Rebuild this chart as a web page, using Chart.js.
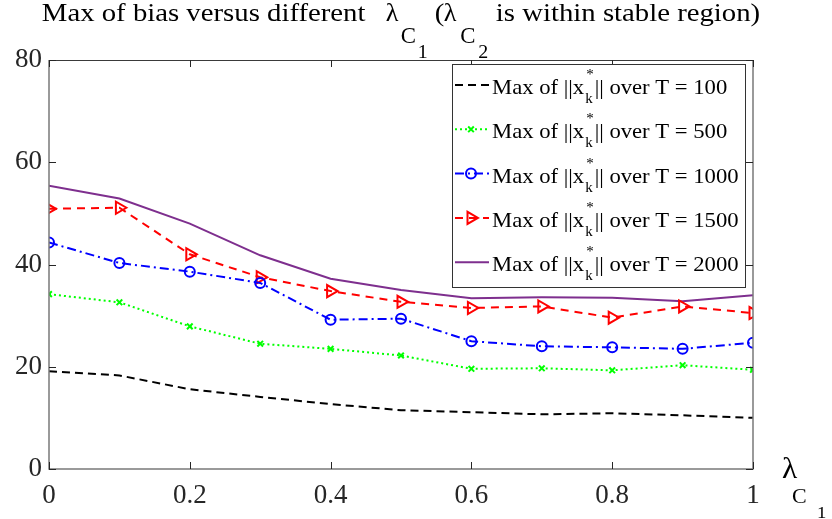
<!DOCTYPE html>
<html>
<head>
<meta charset="utf-8">
<script src="https://cdn.jsdelivr.net/npm/chart.js@4.4.1/dist/chart.umd.min.js"></script>
<style>
  html, body { margin: 0; padding: 0; background: #ffffff; }
  #wrap { width: 832px; height: 519px; }
</style>
</head>
<body>
<div id="wrap"><canvas id="c" width="832" height="519"></canvas></div>
<script>
// Sweep of the first eigenvalue parameter
const lambdaC1 = [0, 0.1, 0.2, 0.3, 0.4, 0.5, 0.6, 0.7, 0.8, 0.9, 1];

// Horizon lengths for each series
const horizons = ['100', '500', '1000', '1500', '2000'];

// Maximum bias norm reached over each horizon
const maxT100  = [19.1, 18.3, 15.6, 14.1, 12.7, 11.5, 11.1, 10.7, 10.9, 10.5, 10.0];
const maxT500  = [34.2, 32.6, 27.9, 24.5, 23.5, 22.2, 19.6, 19.7, 19.3, 20.3, 19.4];
const maxT1000 = [44.3, 40.3, 38.6, 36.4, 29.2, 29.4, 25.0, 24.0, 23.8, 23.5, 24.7];
const maxT1500 = [50.9, 51.1, 42.0, 37.5, 34.8, 32.7, 31.5, 31.8, 29.6, 31.8, 30.5];
const maxT2000 = [55.4, 52.9, 48.0, 41.8, 37.2, 35.0, 33.4, 33.6, 33.5, 32.8, 34.0];

// Axis tick values
const xTickValues = [0, 0.2, 0.4, 0.6, 0.8, 1];
const yTickValues = [0, 20, 40, 60, 80];

const SERIF = '"Liberation Serif", "Times New Roman", Times, serif';
const TEXT_COLOR = '#262626';

function toPoints(values) {
  return lambdaC1.map((x, i) => ({ x: x, y: values[i] }));
}

// Draws one piece of text with an optional horizontal stretch.
function drawText(ctx, text, x, baseline, size, sx, color) {
  ctx.save();
  ctx.translate(x, baseline);
  ctx.scale(sx, 1);
  ctx.font = size + 'px ' + SERIF;
  ctx.fillStyle = color || '#000000';
  ctx.textAlign = 'left';
  ctx.textBaseline = 'alphabetic';
  ctx.fillText(text, 0, 0);
  ctx.restore();
}

function textWidth(ctx, text, size, sx) {
  ctx.save();
  ctx.font = size + 'px ' + SERIF;
  const w = ctx.measureText(text).width * sx;
  ctx.restore();
  return w;
}

// Title pieces: offsets are from the start of the title line
const TITLE_SX = 1.15;
const titlePieces = [
  { t: 'Max of bias versus different', x: 0, dy: 0, size: 25, sx: TITLE_SX },
  { t: '\u03BB', x: 344, dy: 0, size: 25, sx: 1.05 },
  { t: 'C', x: 359, dy: 22, size: 24, sx: 0.95 },
  { t: '1', x: 376, dy: 37, size: 19, sx: 1.05 },
  { t: '(', x: 393, dy: 0, size: 25, sx: TITLE_SX },
  { t: '\u03BB', x: 402, dy: 0, size: 25, sx: 1.05 },
  { t: 'C', x: 418.5, dy: 22, size: 24, sx: 0.95 },
  { t: '2', x: 436.5, dy: 37, size: 19, sx: 1.05 },
  { t: 'is within stable region)', x: 454, dy: 0, size: 25, sx: TITLE_SX }
];

const titlePlugin = {
  id: 'richTitle',
  afterDraw(chart) {
    const ctx = chart.ctx;
    const area = chart.chartArea;
    const last = titlePieces[titlePieces.length - 1];
    const total = last.x + textWidth(ctx, last.t, last.size, last.sx);
    const x0 = (area.left + area.right) / 2 - total / 2;
    for (const p of titlePieces) {
      drawText(ctx, p.t, x0 + p.x, 21 + p.dy, p.size, p.sx, '#000000');
    }
  }
};

// Axis title for the horizontal axis, at the right end of the axis
const xTitlePlugin = {
  id: 'xAxisTitle',
  afterDraw(chart) {
    const ctx = chart.ctx;
    const area = chart.chartArea;
    const x = area.right + 29;
    drawText(ctx, '\u03BB', x, area.bottom + 9, 30, 1.05);
    drawText(ctx, 'C', x + 10, area.bottom + 34, 20, 1.1);
    drawText(ctx, '1', x + 35, area.bottom + 49, 17, 1.1);
  }
};

// Box around the plot area with inward tick marks on all four sides
const framePlugin = {
  id: 'boxFrame',
  afterDatasetsDraw(chart) {
    const ctx = chart.ctx;
    const a = chart.chartArea;
    const xs = chart.scales.x;
    const ys = chart.scales.y;
    const tick = 7;
    ctx.save();
    ctx.lineWidth = 1.5;
    ctx.strokeStyle = '#7a7a7a';
    ctx.beginPath();
    ctx.moveTo(a.left, a.top);
    ctx.lineTo(a.left, a.bottom);
    ctx.lineTo(a.right, a.bottom);
    ctx.lineTo(a.right, a.top);
    ctx.stroke();
    ctx.lineWidth = 1;
    ctx.strokeStyle = '#3a3a3a';
    ctx.beginPath();
    ctx.moveTo(a.left, a.top + 0.5);
    ctx.lineTo(a.right, a.top + 0.5);
    ctx.stroke();
    ctx.strokeStyle = '#262626';
    ctx.beginPath();
    for (const v of xTickValues) {
      const px = Math.round(xs.getPixelForValue(v)) + 0.5;
      ctx.moveTo(px, a.bottom); ctx.lineTo(px, a.bottom - tick);
      ctx.moveTo(px, a.top); ctx.lineTo(px, a.top + tick);
    }
    for (const v of yTickValues) {
      const py = Math.round(ys.getPixelForValue(v)) + 0.5;
      ctx.moveTo(a.left, py); ctx.lineTo(a.left + tick, py);
      ctx.moveTo(a.right, py); ctx.lineTo(a.right - tick, py);
    }
    ctx.stroke();
    ctx.restore();
  }
};

// Legend box with labels of the form Max of ||x_k^*|| over T = ...
const LEGEND_FONT = 22;
const legendPlugin = {
  id: 'richLegend',
  afterDraw(chart) {
    const ctx = chart.ctx;
    const a = chart.chartArea;
    const boxW = 293, boxH = 223;
    const left = a.right - 8 - boxW;
    const top = a.top + 4;
    ctx.save();
    ctx.fillStyle = '#ffffff';
    ctx.fillRect(left, top, boxW, boxH);
    ctx.lineWidth = 1;
    ctx.strokeStyle = '#333333';
    ctx.strokeRect(left + 0.5, top + 0.5, boxW, boxH);
    chart.data.datasets.forEach((ds, i) => {
      const y = top + 21 + i * 44.3;
      ctx.save();
      ctx.strokeStyle = ds.borderColor;
      ctx.lineWidth = ds.borderWidth;
      ctx.setLineDash(ds.borderDash || []);
      ctx.beginPath();
      ctx.moveTo(left + 3, y);
      ctx.lineTo(left + 37, y);
      ctx.stroke();
      ctx.setLineDash([]);
      if (ds.pointRadius > 0) {
        ctx.strokeStyle = ds.pointBorderColor;
        ctx.fillStyle = 'rgba(0,0,0,0)';
        Chart.helpers.drawPoint(ctx, {
          pointStyle: ds.pointStyle,
          radius: ds.pointRadius,
          rotation: ds.pointRotation || 0,
          borderWidth: ds.pointBorderWidth
        }, left + 19, y);
      }
      ctx.restore();
      const base = y + 9;
      let x = left + 40;
      const head = 'Max of ||x';
      drawText(ctx, head, x, base, LEGEND_FONT, 1.03);
      x += textWidth(ctx, head, LEGEND_FONT, 1.03) + 1;
      drawText(ctx, 'k', x, base + 9, 15, 1);
      drawText(ctx, '*', x + 1, base - 15, 15, 1);
      x += textWidth(ctx, 'k', 15, 1) + 2;
      drawText(ctx, '|| over T = ' + horizons[i], x, base, LEGEND_FONT, 1.03);
    });
    ctx.restore();
  }
};

const datasets = [
  {
    label: 'T = ' + horizons[0],
    data: toPoints(maxT100),
    borderColor: '#000000',
    backgroundColor: '#000000',
    borderWidth: 2,
    borderDash: [8, 5],
    pointRadius: 0,
    pointStyle: false
  },
  {
    label: 'T = ' + horizons[1],
    data: toPoints(maxT500),
    borderColor: '#00ff00',
    backgroundColor: 'rgba(0,0,0,0)',
    borderWidth: 2,
    borderDash: [2, 3],
    pointStyle: 'crossRot',
    pointRadius: 4,
    pointBorderWidth: 2,
    pointBorderColor: '#00ff00'
  },
  {
    label: 'T = ' + horizons[2],
    data: toPoints(maxT1000),
    borderColor: '#0000ff',
    backgroundColor: 'rgba(0,0,0,0)',
    borderWidth: 2,
    borderDash: [9, 4, 2, 4],
    pointStyle: 'circle',
    pointRadius: 5,
    pointBorderWidth: 2,
    pointBorderColor: '#0000ff'
  },
  {
    label: 'T = ' + horizons[3],
    data: toPoints(maxT1500),
    borderColor: '#ff0000',
    backgroundColor: 'rgba(0,0,0,0)',
    borderWidth: 2,
    borderDash: [8, 6],
    pointStyle: 'triangle',
    pointRotation: 90,
    pointRadius: 7,
    pointBorderWidth: 2,
    pointBorderColor: '#ff0000'
  },
  {
    label: 'T = ' + horizons[4],
    data: toPoints(maxT2000),
    borderColor: '#7e2f8e',
    backgroundColor: '#7e2f8e',
    borderWidth: 2,
    pointRadius: 0,
    pointStyle: false
  }
];

new Chart(document.getElementById('c'), {
  type: 'line',
  data: { datasets: datasets },
  options: {
    responsive: false,
    animation: false,
    devicePixelRatio: 1,
    layout: { padding: { top: 60, right: 79, left: 0, bottom: 0 } },
    plugins: {
      legend: { display: false },
      title: { display: false },
      tooltip: { enabled: false }
    },
    elements: { line: { tension: 0 } },
    scales: {
      x: {
        type: 'linear',
        min: 0,
        max: 1,
        grid: { display: false, drawTicks: false },
        border: { display: false },
        afterBuildTicks(scale) { scale.ticks = xTickValues.map(v => ({ value: v })); },
        afterFit(scale) { scale.height = 50; },
        ticks: {
          font: { family: SERIF, size: 27 },
          color: TEXT_COLOR,
          padding: 11,
          maxRotation: 0,
          callback: v => String(v)
        }
      },
      y: {
        type: 'linear',
        min: 0,
        max: 80,
        grid: { display: false, drawTicks: false },
        border: { display: false },
        afterBuildTicks(scale) { scale.ticks = yTickValues.map(v => ({ value: v })); },
        afterFit(scale) { scale.width = 49; },
        ticks: {
          font: { family: SERIF, size: 27 },
          color: TEXT_COLOR,
          padding: 7,
          callback: v => String(v)
        }
      }
    }
  },
  plugins: [framePlugin, legendPlugin, titlePlugin, xTitlePlugin]
});
</script>
</body>
</html>
